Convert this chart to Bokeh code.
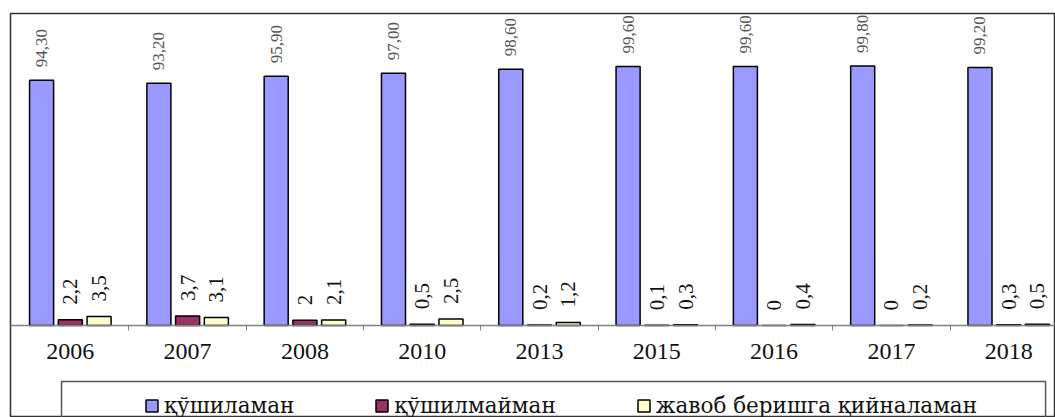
from bokeh.plotting import figure
from bokeh.models import (ColumnDataSource, Range1d, FixedTicker, Legend, LegendItem)
from bokeh.transform import dodge
from bokeh.core.properties import value
from bokeh.embed import file_html
from bokeh.resources import INLINE
import math

years = ["2006", "2007", "2008", "2010", "2013", "2015", "2016", "2017", "2018"]
agree = [94.30, 93.20, 95.90, 97.00, 98.60, 99.60, 99.60, 99.80, 99.20]
disagree = [2.2, 3.7, 2.0, 0.5, 0.2, 0.1, 0.0, 0.0, 0.3]
hard = [3.5, 3.1, 2.1, 2.5, 1.2, 0.3, 0.4, 0.2, 0.5]
series_names = ["қўшиламан", "қўшилмайман", "жавоб беришга қийналаман"]

centers = [i + 0.5 for i in range(len(years))]
bounds = [float(i) for i in range(1, len(years))]

src = ColumnDataSource(dict(
    x=centers,
    agree=agree, disagree=disagree, hard=hard,
    agree_lbl=[f"{v:.2f}".replace(".", ",") for v in agree],
    disagree_lbl=[f"{v:g}".replace(".", ",") for v in disagree],
    hard_lbl=[f"{v:g}".replace(".", ",") for v in hard],
))

W, H = 1055, 417
x0 = -0.01
x1 = x0 + 1045 / 117.3
ymin = -(417 - 325) / 2.6
ymax = 120.0
p = figure(width=W, height=H, output_backend="svg", toolbar_location=None,
           x_range=Range1d(x0, x1), y_range=Range1d(ymin, ymax),
           min_border_left=10, min_border_right=0, min_border_top=13, min_border_bottom=0)
# chart-area border: left and top edges (right/bottom run past the picture)
p.outline_line_color = "#333333"
p.outline_line_width = 1.5
p.xgrid.visible = False
p.ygrid.visible = False
p.yaxis.visible = False

off = 0.245
bw = 0.205
r1 = p.vbar(x=dodge("x", -off, range=p.x_range), top="agree", width=bw, source=src,
            fill_color="#9999FF", line_color="#000000", line_width=1.5)
r2 = p.vbar(x=dodge("x", 0, range=p.x_range), top="disagree", width=bw, source=src,
            fill_color="#993366", line_color="#000000", line_width=1.5)
r3 = p.vbar(x=dodge("x", off, range=p.x_range), top="hard", width=bw, source=src,
            fill_color="#FFFFCC", line_color="#000000", line_width=1.5)

font = value("Liberation Serif")
p.text(x=dodge("x", -off, range=p.x_range), y="agree", text="agree_lbl", source=src,
       angle=math.pi / 2, text_align="left", text_baseline="middle", y_offset=-13,
       text_font=font, text_font_size="17px", text_color="#555555")
p.text(x=dodge("x", 0, range=p.x_range), y="disagree", text="disagree_lbl", source=src,
       angle=math.pi / 2, text_align="left", text_baseline="middle", y_offset=-15,
       text_font=font, text_font_size="21px", text_color="#111111")
p.text(x=dodge("x", off, range=p.x_range), y="hard", text="hard_lbl", source=src,
       angle=math.pi / 2, text_align="left", text_baseline="middle", y_offset=-15,
       text_font=font, text_font_size="21px", text_color="#111111")

ax = p.xaxis[0]
ax.fixed_location = 0
ax.ticker = FixedTicker(ticks=centers, minor_ticks=bounds)
ax.major_label_overrides = {c: y for c, y in zip(centers, years)}
ax.major_tick_line_color = None
ax.minor_tick_line_color = "#808080"
ax.minor_tick_out = 5
ax.minor_tick_in = 0
ax.axis_line_color = "#808080"
ax.axis_line_width = 1.5
ax.major_label_standoff = 12
ax.major_label_text_font = "Liberation Serif"
ax.major_label_text_font_size = "24px"
ax.major_label_text_color = "#111111"

# legend frame (its bottom edge runs past the picture)
p.quad(left=[0.425], right=[8.814], top=[-21.5], bottom=[ymin - 10],
       fill_alpha=0, line_color="#555555", line_width=1.5)

legend = Legend(items=[LegendItem(label=series_names[0], renderers=[r1]),
                       LegendItem(label=series_names[1], renderers=[r2]),
                       LegendItem(label=series_names[2], renderers=[r3])],
                orientation="horizontal", location=(134, -1), spacing=80,
                label_standoff=5, glyph_width=15, glyph_height=15, padding=0, margin=0,
                border_line_color=None, background_fill_alpha=0,
                label_text_font="DejaVu Serif", label_text_font_size="21.5px",
                label_text_color="#111111")
p.add_layout(legend)

open("out.html", "w").write(file_html(p, INLINE))
